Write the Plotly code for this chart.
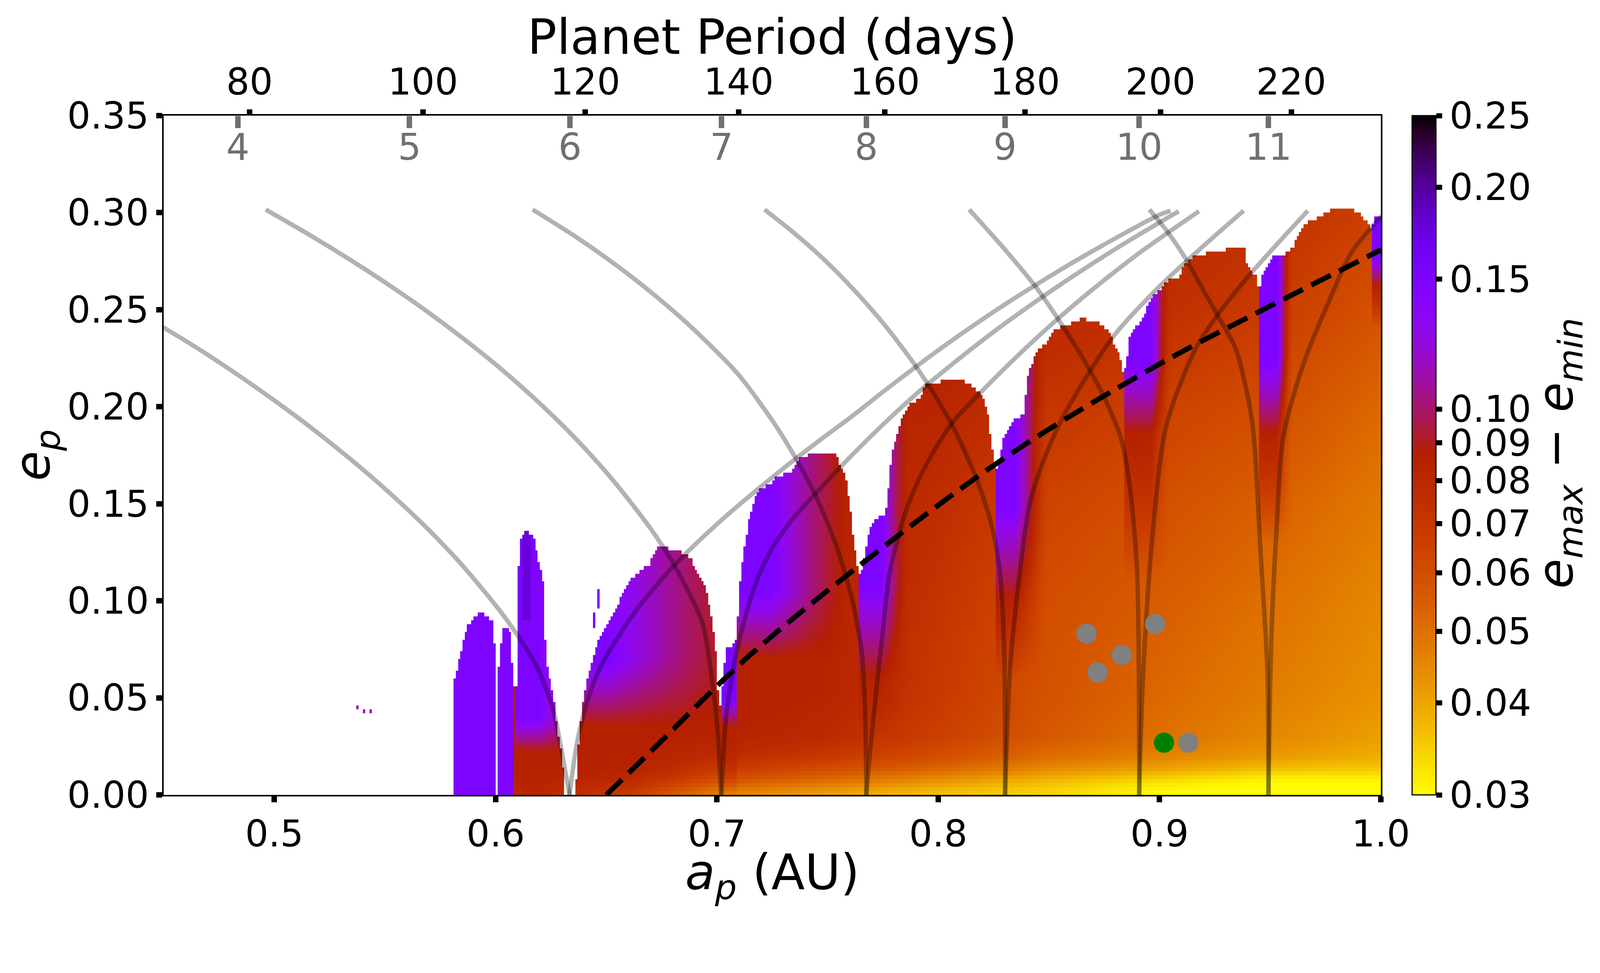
import numpy as np
import plotly.graph_objects as go

# ---- axis ticks and labels
e_ticks = [0.00, 0.05, 0.10, 0.15, 0.20, 0.25, 0.30, 0.35]
a_ticks = [0.5, 0.6, 0.7, 0.8, 0.9, 1.0]
period_labels = [80, 100, 120, 140, 160, 180, 200, 220]
period_a = [0.4888, 0.5672, 0.6405, 0.7098, 0.7759, 0.8392, 0.9004, 0.9595]
res_labels = [4, 5, 6, 7, 8, 9, 10, 11]
res_a = [0.4835, 0.5611, 0.6336, 0.7021, 0.7675, 0.8302, 0.8908, 0.9492]
cbar_ticks = [0.03, 0.04, 0.05, 0.06, 0.07, 0.08, 0.09, 0.10, 0.15, 0.20, 0.25]
cbar_text = ["0.03", "0.04", "0.05", "0.06", "0.07", "0.08", "0.09", "0.10", "0.15", "0.20", "0.25"]

# ---- upper edge of the coloured region (a_p, e_p)
env_a = [0.5805, 0.5810, 0.5827, 0.5844, 0.5870, 0.5904, 0.5929, 0.5955, 0.5989, 0.5997, 0.5999,
         0.6008, 0.6011, 0.6030, 0.6060, 0.6074, 0.6076, 0.6097, 0.6099, 0.6110, 0.6140, 0.6175,
         0.6200, 0.6218, 0.6227, 0.6244, 0.6261, 0.6278, 0.6295, 0.6310, 0.6315,
         0.6362, 0.6366, 0.6377, 0.6398, 0.6419, 0.6441, 0.6462, 0.6483, 0.6515, 0.6547, 0.6600,
         0.6653, 0.6696, 0.6727, 0.6781, 0.6844, 0.6887, 0.6918, 0.6950, 0.6972, 0.6993, 0.7003, 0.7012,
         0.7028, 0.7040, 0.7084, 0.7097, 0.7104, 0.7125, 0.7139, 0.7152, 0.7173, 0.7201, 0.7242,
         0.7270, 0.7339, 0.7380, 0.7449, 0.7532, 0.7560, 0.7587, 0.7601, 0.7615, 0.7629, 0.7640,
         0.7656, 0.7677, 0.7698, 0.7725, 0.7753, 0.7767, 0.7781, 0.7794, 0.7822, 0.7864, 0.7919,
         0.7946, 0.8015, 0.8098, 0.8167, 0.8195, 0.8223, 0.8236, 0.8250, 0.8260,
         0.8271, 0.8291, 0.8319, 0.8347, 0.8388, 0.8402, 0.8422, 0.8457, 0.8498, 0.8526, 0.8581,
         0.8650, 0.8719, 0.8761, 0.8789, 0.8816, 0.8830, 0.8840,
         0.8855, 0.8865, 0.8880, 0.8900, 0.8930, 0.8950, 0.8980, 0.9001, 0.9031, 0.9092, 0.9112,
         0.9152, 0.9248, 0.9344, 0.9385, 0.9395, 0.9415, 0.9435, 0.9445,
         0.9450, 0.9465, 0.9495, 0.9516, 0.9556, 0.9576, 0.9607, 0.9617, 0.9657, 0.9677, 0.9748,
         0.9778, 0.9869, 0.9909, 0.9934, 0.9960, 0.9970, 1.0000]
env_e = [0.0, 0.057, 0.065, 0.0745, 0.0865, 0.0915, 0.0945, 0.0925, 0.0895, 0.0754, 0.0,
         0.0, 0.060, 0.085, 0.085, 0.080, 0.055, 0.055, 0.100, 0.132, 0.137, 0.132,
         0.118, 0.1096, 0.0714, 0.0613, 0.0513, 0.0352, 0.0231, 0.010, 0.0,
         0.0, 0.012, 0.030, 0.0515, 0.062, 0.070, 0.080, 0.083, 0.090, 0.097, 0.110,
         0.115, 0.119, 0.127, 0.127, 0.125, 0.121, 0.113, 0.107, 0.093, 0.079, 0.057, 0.043,
         0.060, 0.075, 0.078, 0.0935, 0.1096, 0.1277, 0.1378, 0.1458, 0.1538, 0.1579, 0.1599,
         0.1639, 0.1669, 0.1740, 0.1760, 0.1760, 0.1699, 0.1619, 0.1498, 0.1337, 0.1237, 0.1140,
         0.1156, 0.1297, 0.1398, 0.1428, 0.1438, 0.1478, 0.1659, 0.1780, 0.1900, 0.2001, 0.2051,
         0.2121, 0.2131, 0.2141, 0.2101, 0.2061, 0.1980, 0.1860, 0.1739, 0.1680,
         0.1699, 0.1820, 0.1900, 0.1941, 0.1961, 0.2160, 0.2222, 0.2302, 0.2342, 0.2403, 0.2423,
         0.2453, 0.2443, 0.2403, 0.2342, 0.2282, 0.2202, 0.2163,
         0.2257, 0.2358, 0.2400, 0.2418, 0.2460, 0.2536, 0.2579, 0.2604, 0.2647, 0.2672, 0.2731,
         0.2774, 0.2799, 0.2820, 0.2816, 0.2740, 0.2706, 0.2672, 0.2620,
         0.2596, 0.2672, 0.2748, 0.2774, 0.2774, 0.2791, 0.2824, 0.2867, 0.2935, 0.2952, 0.2994,
         0.3019, 0.3019, 0.2994, 0.2952, 0.2910, 0.2977, 0.2980]

# ---- e_max - e_min read at a coarse set of (a, e) nodes (red/orange body of the map)
bg_a = [0.58, 0.62, 0.66, 0.70, 0.75, 0.80, 0.85, 0.90, 0.95, 1.00]
bg_e = [0.000, 0.004, 0.008, 0.013, 0.020, 0.030, 0.050, 0.100, 0.150, 0.200, 0.250, 0.300]
bg_v = [
    [0.080, 0.080, 0.068, 0.046, 0.040, 0.036, 0.034, 0.030, 0.030, 0.030],
    [0.082, 0.082, 0.072, 0.052, 0.045, 0.039, 0.035, 0.031, 0.030, 0.030],
    [0.085, 0.085, 0.078, 0.060, 0.052, 0.044, 0.038, 0.034, 0.031, 0.031],
    [0.087, 0.087, 0.083, 0.068, 0.060, 0.052, 0.044, 0.040, 0.036, 0.035],
    [0.087, 0.087, 0.086, 0.077, 0.070, 0.060, 0.051, 0.046, 0.042, 0.039],
    [0.090, 0.090, 0.087, 0.084, 0.078, 0.066, 0.056, 0.050, 0.045, 0.041],
    [0.092, 0.092, 0.088, 0.087, 0.083, 0.069, 0.058, 0.052, 0.047, 0.043],
    [0.095, 0.095, 0.090, 0.088, 0.085, 0.072, 0.060, 0.055, 0.050, 0.045],
    [0.095, 0.095, 0.090, 0.088, 0.086, 0.076, 0.064, 0.059, 0.054, 0.048],
    [0.095, 0.095, 0.090, 0.088, 0.086, 0.082, 0.071, 0.065, 0.060, 0.052],
    [0.095, 0.095, 0.090, 0.088, 0.086, 0.086, 0.080, 0.075, 0.068, 0.058],
    [0.095, 0.095, 0.090, 0.088, 0.086, 0.086, 0.085, 0.080, 0.075, 0.065],
]

# ---- purple / red flank on the low-a side of each tongue
fl_start = [0.5800, 0.6005, 0.6095, 0.6360, 0.7025, 0.7090, 0.7643, 0.8265, 0.8840, 0.9448, 0.9965]
fl_flat = [0.6000, 0.6076, 0.6200, 0.6500, 0.7088, 0.7240, 0.7740, 0.8345, 0.8960, 0.9530, 1.0000]
fl_end = [0.6000, 0.6076, 0.6315, 0.7015, 0.7089, 0.7570, 0.7870, 0.8490, 0.9050, 0.9600, 1.0000]
fl_min = [1.0, 1.0, 0.5, 0.15, 0.0, 0.1, 0.0, 0.0, 0.0, 0.0, 0.0]
red_e0 = [-2.0, -2.0, 0.000, 0.000, 0.000, 0.020, 0.030, 0.060, 0.110, 0.130, 0.240]
purp_e0 = [-1.0, -1.0, 0.022, 0.035, 0.035, 0.070, 0.060, 0.100, 0.185, 0.185, 0.262]
purp_e1 = [-0.5, -0.5, 0.040, 0.070, 0.050, 0.105, 0.110, 0.150, 0.225, 0.225, 0.278]
red_v = 0.085
purple_v = 0.15

# dark spike in the 0.61 tongue
spike_a = [0.6125, 0.6160]
spike_e = [0.090, 0.136]
spike_v = 0.175

# isolated cells
speck_a = [0.5377, 0.5406, 0.5437, 0.6445, 0.6445, 0.6445, 0.6445, 0.6465, 0.6465, 0.6465, 0.6465, 0.6465]
speck_e = [0.0443, 0.0433, 0.0423, 0.087, 0.089, 0.091, 0.093, 0.097, 0.099, 0.101, 0.103, 0.105]
speck_v = [0.11, 0.11, 0.11, 0.15, 0.15, 0.15, 0.15, 0.15, 0.15, 0.15, 0.15, 0.15]

# ---- resonance boundaries (grey curves)
l6_a = [0.4490, 0.4663, 0.4833, 0.5003, 0.5173, 0.5343, 0.5513, 0.5683, 0.5853, 0.6023, 0.6125, 0.6193, 0.6260, 0.6292, 0.6318, 0.6334]
l6_e = [0.2415, 0.2294, 0.2166, 0.2030, 0.1886, 0.1731, 0.1564, 0.1382, 0.1178, 0.0943, 0.0778, 0.0645, 0.0440, 0.0265, 0.0101, 0.0]
l7_a = [0.4961, 0.5173, 0.5343, 0.5513, 0.5683, 0.5853, 0.6023, 0.6193, 0.6363, 0.6532, 0.6702, 0.6804, 0.6906, 0.6940, 0.6983, 0.7004, 0.7018]
l7_e = [0.3016, 0.2876, 0.2757, 0.2631, 0.2497, 0.2352, 0.2196, 0.2024, 0.1834, 0.1619, 0.1369, 0.1190, 0.0966, 0.0864, 0.0550, 0.0319, 0.0]
l8_a = [0.6167, 0.6363, 0.6532, 0.6702, 0.6872, 0.7063, 0.7132, 0.7270, 0.7380, 0.7450, 0.7546, 0.7615, 0.7656, 0.7670, 0.7675]
l8_e = [0.3016, 0.2875, 0.2740, 0.2590, 0.2423, 0.2209, 0.2116, 0.1895, 0.1686, 0.1532, 0.1263, 0.0987, 0.0720, 0.0400, 0.0]
l9_a = [0.7215, 0.7339, 0.7477, 0.7615, 0.7753, 0.7891, 0.8002, 0.8071, 0.8167, 0.8236, 0.8278, 0.8298, 0.8302]
l9_e = [0.3016, 0.2904, 0.2766, 0.2607, 0.2428, 0.2221, 0.2027, 0.1886, 0.1646, 0.1411, 0.1159, 0.0734, 0.0]
l10_a = [0.8140, 0.8305, 0.8443, 0.8581, 0.8678, 0.8761, 0.8830, 0.8871, 0.8899, 0.8908]
l10_e = [0.3016, 0.2805, 0.2614, 0.2383, 0.2202, 0.2021, 0.1820, 0.1538, 0.1136, 0.0]
l11_a = [0.8954, 0.9030, 0.9112, 0.9213, 0.9273, 0.9344, 0.9400, 0.9425, 0.9455, 0.9487, 0.9492]
l11_e = [0.3016, 0.2910, 0.2774, 0.2570, 0.2450, 0.2299, 0.2045, 0.1860, 0.1277, 0.0641, 0.0]
r6_a = [0.6334, 0.6345, 0.6366, 0.6398, 0.6441, 0.6500, 0.6634, 0.6804, 0.7008, 0.7158, 0.7339, 0.7477, 0.7615,
        0.7753, 0.7905, 0.8029, 0.8167, 0.8305, 0.8457, 0.8581, 0.8719, 0.8858, 0.8996, 0.9050]
r6_e = [0.0, 0.0099, 0.0257, 0.0417, 0.0572, 0.0714, 0.0949, 0.1179, 0.1403, 0.1550, 0.1717, 0.1838, 0.1955,
        0.2079, 0.2211, 0.2315, 0.2425, 0.2530, 0.2639, 0.2725, 0.2816, 0.2904, 0.2987, 0.3010]
r7_a = [0.7021, 0.7035, 0.7057, 0.7089, 0.7131, 0.7184, 0.7248, 0.7341, 0.7450, 0.7615, 0.7753, 0.7891, 0.7946,
        0.8167, 0.8305, 0.8540, 0.8719, 0.8858, 0.8996, 0.9087]
r7_e = [0.0, 0.0319, 0.0537, 0.0733, 0.0930, 0.1115, 0.1268, 0.1420, 0.1558, 0.1756, 0.1911, 0.2056, 0.2110,
        0.2313, 0.2432, 0.2620, 0.2754, 0.2853, 0.2947, 0.3007]
r8_a = [0.7675, 0.7690, 0.7718, 0.7750, 0.7782, 0.7850, 0.7910, 0.7990, 0.8069, 0.8236, 0.8443, 0.8650, 0.8900, 0.9178]
r8_e = [0.0, 0.0200, 0.0513, 0.0850, 0.1150, 0.1450, 0.1620, 0.1790, 0.1925, 0.2125, 0.2353, 0.2560, 0.2785, 0.3007]
r9_a = [0.8302, 0.8324, 0.8356, 0.8420, 0.8547, 0.8790, 0.9000, 0.9200, 0.9380]
r9_e = [0.0, 0.0641, 0.1022, 0.1530, 0.1910, 0.2360, 0.2620, 0.2830, 0.3010]
r10_a = [0.8908, 0.8925, 0.8965, 0.9030, 0.9163, 0.9273, 0.9415, 0.9670]
r10_e = [0.0, 0.0600, 0.1300, 0.1900, 0.2299, 0.2490, 0.2690, 0.3010]
r11_a = [0.9492, 0.9505, 0.9530, 0.9560, 0.9650, 0.9768, 0.9870, 1.0050]
r11_e = [0.0, 0.0800, 0.1400, 0.1850, 0.2220, 0.2550, 0.2800, 0.3040]

# ---- dashed black curve
dash_a = [0.6500, 0.6738, 0.6950, 0.7163, 0.7615, 0.8305, 0.9000, 0.9516, 1.0000]
dash_e = [0.0000, 0.0265, 0.0505, 0.0734, 0.1156, 0.1740, 0.2220, 0.2528, 0.2808]

# ---- planets
grey_a = [0.867, 0.872, 0.883, 0.898, 0.913]
grey_e = [0.0831, 0.0631, 0.0721, 0.0880, 0.0269]
green_a = [0.902]
green_e = [0.0269]

# -------------------------------------------------------------------
# build the map on a regular grid
grid_a = np.round(np.arange(0.4505, 1.0, 0.001), 4)
grid_e = np.round(np.arange(0.001, 0.35, 0.002), 4)
A, E = np.meshgrid(grid_a, grid_e)

log_bg_rows = np.array([np.interp(grid_a, bg_a, np.log10(row)) for row in bg_v])
logv = np.empty_like(A)
for i in range(len(grid_a)):
    logv[:, i] = np.interp(grid_e, bg_e, log_bg_rows[:, i])

log_red = np.log10(red_v)
log_purple = np.log10(purple_v)
for k in range(len(fl_start)):
    inside = (grid_a >= fl_start[k]) & (grid_a <= fl_end[k])
    span = max(fl_end[k] - fl_flat[k], 1e-6)
    fa = np.where(grid_a <= fl_flat[k], 1.0, 1 - (1 - fl_min[k]) * (grid_a - fl_flat[k]) / span)
    fa = np.where(inside, np.clip(fa, 0, 1), 0.0) ** 1.5
    wr = np.clip((E - red_e0[k]) / (purp_e0[k] - red_e0[k]), 0, 1) * fa
    wp = np.clip((E - purp_e0[k]) / (purp_e1[k] - purp_e0[k]), 0, 1) * fa
    logv = logv + wr * (log_red - logv)
    logv = logv + wp * (log_purple - logv)

in_spike = (A >= spike_a[0]) & (A <= spike_a[1]) & (E >= spike_e[0]) & (E <= spike_e[1])
logv[in_spike] = np.log10(spike_v)

top = np.interp(grid_a, env_a, env_e, left=0.0, right=0.0)
logv[E > top[None, :]] = np.nan

for sa, se, sv in zip(speck_a, speck_e, speck_v):
    i = int(round((sa - grid_a[0]) / 0.001))
    j = int(round((se - grid_e[0]) / 0.002))
    logv[j, i] = np.log10(sv)

# gnuplot colormap, reversed
stops = np.linspace(0, 1, 41)
colorscale = []
for s in stops:
    x = 1 - s
    r, g, b = np.sqrt(x), x ** 3, np.clip(np.sin(2 * np.pi * x), 0, 1)
    colorscale.append([float(s), "rgb(%d,%d,%d)" % (round(r * 255), round(g * 255), round(b * 255))])

# the page is photographed at ~1.06x, so sizes are given in css px
K = 1 / 1.06
tick_font = dict(size=round(100 * K), family="DejaVu Sans", color="black")
title_font = dict(size=round(133 * K), family="DejaVu Sans", color="black")

fig = go.Figure()
fig.add_trace(go.Heatmap(
    x=grid_a, y=grid_e, z=logv, colorscale=colorscale,
    zmin=np.log10(0.03), zmax=np.log10(0.25), hoverinfo="skip",
    colorbar=dict(
        x=1.0257, xanchor="left", y=0.5, yanchor="middle", len=1.0, thickness=round(65 * K),
        xpad=0, ypad=0, outlinewidth=3, outlinecolor="black",
        tickvals=np.log10(cbar_ticks), ticktext=cbar_text,
        ticks="outside", ticklen=round(16 * K), tickwidth=round(14 * K), tickcolor="black",
        tickfont=tick_font,
    ),
))

grey_line = dict(color="rgba(0,0,0,0.3)", width=12 * K, shape="spline", smoothing=0.8)
for ca, ce in [(l6_a, l6_e), (l7_a, l7_e), (l8_a, l8_e), (l9_a, l9_e), (l10_a, l10_e), (l11_a, l11_e),
               (r6_a, r6_e), (r7_a, r7_e), (r8_a, r8_e), (r9_a, r9_e), (r10_a, r10_e), (r11_a, r11_e)]:
    fig.add_trace(go.Scatter(x=ca, y=ce, mode="lines", line=grey_line, hoverinfo="skip"))

fig.add_trace(go.Scatter(x=dash_a, y=dash_e, mode="lines",
                         line=dict(color="black", width=14 * K, dash="%dpx,%dpx" % (60 * K, 26 * K), shape="spline")))
fig.add_trace(go.Scatter(x=grey_a, y=grey_e, mode="markers", marker=dict(size=55 * K, color="#808080")))
fig.add_trace(go.Scatter(x=green_a, y=green_e, mode="markers", marker=dict(size=55 * K, color="#008000")))

# empty traces so the two top axes get drawn
fig.add_trace(go.Scatter(x=[None], y=[None], xaxis="x2"))
fig.add_trace(go.Scatter(x=[None], y=[None], xaxis="x3"))

fig.update_layout(
    width=4070, height=2330,
    margin=dict(l=411, r=543, t=288, b=303),
    plot_bgcolor="white", paper_bgcolor="white", showlegend=False,
    font=dict(family="DejaVu Sans", size=round(100 * K), color="black"),
    xaxis=dict(range=[0.45, 1.0], tickvals=a_ticks, tickformat=".1f", ticks="outside",
               ticklen=round(16 * K), tickwidth=round(15 * K), tickcolor="black", tickfont=tick_font,
               showline=True, linecolor="black", linewidth=4, mirror=True,
               showgrid=False, zeroline=False),
    yaxis=dict(range=[0, 0.35], tickvals=e_ticks, tickformat=".2f", ticks="outside",
               ticklen=round(16 * K), tickwidth=round(15 * K), tickcolor="black", tickfont=tick_font,
               showline=True, linecolor="black", linewidth=4, mirror=True,
               showgrid=False, zeroline=False),
    xaxis2=dict(overlaying="x", anchor="y", side="top", range=[0.45, 1.0],
                tickvals=period_a, ticktext=[str(p) for p in period_labels],
                ticks="outside", ticklen=round(16 * K), tickwidth=round(15 * K), tickcolor="black",
                tickfont=tick_font, showline=False, showgrid=False, zeroline=False),
    # resonance numbers: a free axis sitting on the top edge, ticks and labels pointing down
    xaxis3=dict(overlaying="x", anchor="free", position=1.0, side="bottom", range=[0.45, 1.0],
                tickvals=res_a, ticktext=[str(n) for n in res_labels],
                ticks="outside", ticklen=round(33 * K), tickwidth=round(15 * K), tickcolor="#707070",
                tickfont=dict(size=round(100 * K), family="DejaVu Sans", color="#707070"),
                ticklabelstandoff=-32,
                showline=False, showgrid=False, zeroline=False),
)

fig.add_annotation(text="Planet Period (days)", x=0.5, y=1.116, xref="paper", yref="paper",
                   showarrow=False, font=title_font, yanchor="middle")
fig.add_annotation(text="<i>a</i><sub><i>p</i></sub> (AU)", x=0.5, y=-0.119, xref="paper", yref="paper",
                   showarrow=False, font=title_font, yanchor="middle")
fig.add_annotation(text="<i>e</i><sub><i>p</i></sub>", x=-0.105, y=0.5, xref="paper", yref="paper",
                   showarrow=False, font=title_font, textangle=-90, xanchor="center")
fig.add_annotation(text="<i>e</i><sub><i>max</i></sub> \u2212 <i>e</i><sub><i>min</i></sub>",
                   x=1.146, y=0.503, xref="paper", yref="paper",
                   showarrow=False, font=title_font, textangle=-90, xanchor="center")

fig.write_html("out.html")
